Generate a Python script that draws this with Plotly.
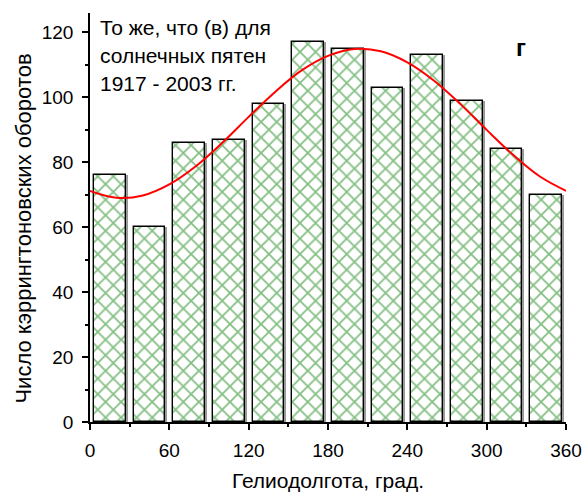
import plotly.graph_objects as go

# Heliolongitude bins (degrees) and number of Carrington rotations per bin
longitude = [15, 45, 75, 105, 135, 165, 195, 225, 255, 285, 315, 345]
rotations = [76, 60, 86, 87, 98, 117, 115, 103, 113, 99, 84, 70]

# Smooth fitted curve through the histogram
fit_x = [0, 20, 40, 60, 80, 100, 120, 140, 160, 180, 200, 220, 240, 260, 280, 300, 320, 340, 360]
fit_y = [71.2, 69.1, 69.8, 73.2, 78.8, 86.0, 94.0, 101.7, 108.3, 112.8, 114.9, 114.2,
         110.8, 105.2, 98.0, 90.0, 82.3, 75.7, 71.2]

x_ticks = [0, 60, 120, 180, 240, 300, 360]
y_ticks = [0, 20, 40, 60, 80, 100, 120]

FONT = "Arial, Liberation Sans, sans-serif"
BAR_W = 24

fig = go.Figure()

# drop shadow behind each bar
fig.add_trace(go.Bar(
    x=longitude, y=rotations, width=BAR_W, offset=-BAR_W / 2 + 1.4,
    marker=dict(color="#9a9a9a", line=dict(width=0)),
    hoverinfo="skip", showlegend=False,
))

# hatched bars
fig.add_trace(go.Bar(
    x=longitude, y=rotations, width=BAR_W, offset=-BAR_W / 2,
    marker=dict(
        color="white",
        line=dict(color="black", width=1.4),
        pattern=dict(shape="x", fgcolor="#0a800a", bgcolor="white", size=11, solidity=0.3),
    ),
    showlegend=False,
))

fig.add_trace(go.Scatter(
    x=fit_x, y=fit_y, mode="lines", line=dict(color="#ff0000", width=2, shape="spline"),
    showlegend=False,
))

W, H = 585, 492
L, R, T, B = 89.5, 19, 13, 70
pw = W - L - R
ph = H - T - B


def px(pix):
    return (pix - L) / pw


def py(pix):
    return (H - B - pix) / ph


lines = ["То же, что (в) для", "солнечных пятен", "1917 - 2003 гг."]
centers = [27.5, 55.5, 83.5]
for txt, c in zip(lines, centers):
    fig.add_annotation(text=txt, xref="paper", yref="paper", x=px(97.5), y=py(c),
                       xanchor="left", yanchor="middle", showarrow=False,
                       font=dict(family=FONT, size=21, color="black"))

fig.add_annotation(text="<b>г</b>", xref="paper", yref="paper", x=px(520.5), y=py(47),
                   xanchor="center", yanchor="middle", showarrow=False,
                   font=dict(family=FONT, size=24, color="black"))

# vertical axis title
fig.add_annotation(text="Число кэррингтоновских оборотов", xref="paper", yref="paper",
                   x=px(22), y=py(229), xanchor="center", yanchor="middle", textangle=-90,
                   showarrow=False, font=dict(family=FONT, size=22, color="black"))

axis_common = dict(
    showline=True, linecolor="black", linewidth=1.5, showgrid=False, zeroline=False,
    ticks="outside", ticklen=6, tickwidth=1.5, tickcolor="black", automargin=False,
    tickfont=dict(family=FONT, size=19, color="black"),
)

fig.update_layout(
    width=W, height=H,
    margin=dict(l=L, r=R, t=T, b=B, pad=0),
    paper_bgcolor="white", plot_bgcolor="white",
    barmode="overlay", bargap=0,
    xaxis=dict(
        range=[0, 360], tickvals=x_ticks, ticklabelstandoff=4,
        minor=dict(dtick=30, tick0=0, ticks="outside", ticklen=3, tickwidth=1.5, tickcolor="black"),
        title=dict(text="Гелиодолгота, град.", font=dict(family=FONT, size=21, color="black"), standoff=17),
        **axis_common,
    ),
    yaxis=dict(
        range=[0, 126], tickvals=y_ticks, ticklabelstandoff=5,
        minor=dict(dtick=10, tick0=0, ticks="outside", ticklen=3, tickwidth=1.5, tickcolor="black"),
        **axis_common,
    ),
)

fig.write_html("out.html")
